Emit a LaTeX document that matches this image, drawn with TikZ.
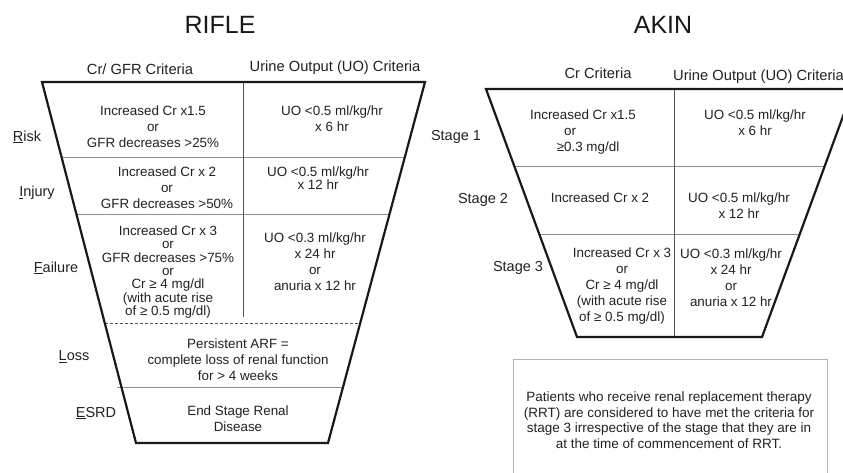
\documentclass[tikz,border=0pt]{standalone}
\usepackage{fontspec}
\setmainfont{Liberation Sans}
\usetikzlibrary{calc}
\definecolor{ink}{HTML}{222222}
\definecolor{rulegray}{HTML}{8E8E8E}
\definecolor{divgray}{HTML}{555555}
\definecolor{boxgray}{HTML}{B4B4B4}
\AtBeginDocument{\setlength{\lineskiplimit}{-20pt}}
\begin{document}
\begin{tikzpicture}[x=1pt,y=-1pt,
  cell/.style={font=\fontsize{13.4}{16}\selectfont, align=center, inner sep=0pt, text=ink},
  tightcell/.style={cell, font=\fontsize{13.4}{13.3}\selectfont},
  hdr/.style={font=\fontsize{14.7}{17}\selectfont, inner sep=0pt, text=ink},
  lbl/.style={font=\fontsize{14.5}{17}\selectfont, inner sep=0pt, text=ink},
  ttl/.style={font=\fontsize{25}{28}\selectfont, inner sep=0pt, text=black!90},
  outline/.style={line width=2.2pt, draw=black!90, line join=miter},
  rowline/.style={line width=1pt, draw=rulegray},
  divline/.style={line width=1pt, draw=divgray},
  dashline/.style={line width=1pt, draw=divgray, dash pattern=on 3pt off 2pt},
  notebox/.style={line width=1pt, draw=boxgray}
]
\useasboundingbox (0,0) rectangle (843,472);
\fill[white] (0,0) rectangle (843,472);
\clip (0,0) rectangle (843,472);

% ---------- titles ----------
\node[ttl] (rifle) at (220,25) {RIFLE};
\node[ttl] (akin) at (663,25) {AKIN};

% ---------- RIFLE ----------
\coordinate (Rtl) at (42,82);
\coordinate (Rtr) at (425,82);
\coordinate (Rbl) at (136,443);
\coordinate (Rbr) at (328,443);
\coordinate (Rdt) at (243,82);
\coordinate (Rdb) at (243,317);

\draw[rowline] ($(Rtl)!0.2105!(Rbl)$) -- ($(Rtr)!0.2105!(Rbr)$);
\draw[rowline] ($(Rtl)!0.3657!(Rbl)$) -- ($(Rtr)!0.3657!(Rbr)$);
\draw[dashline] ($(Rtl)!0.6676!(Rbl)$) -- ($(Rtr)!0.6676!(Rbr)$);
\draw[rowline] ($(Rtl)!0.8449!(Rbl)+(-4,0)$) -- ($(Rtr)!0.8449!(Rbr)$);
\draw[divline] (Rdt) -- (Rdb);
\draw[outline] (Rtl) -- (Rtr) -- (Rbr) -- (Rbl) -- cycle;

\node[hdr] (rh1) at (140,69) {Cr/ GFR Criteria};
\node[hdr] (rh2) at (335,68) {Urine Output (UO) Criteria};

\node[lbl] (lrisk) at (27,137) {\underline{R}isk};
\node[lbl] (linj) at (37,193) {\underline{I}njury};
\node[lbl] (lfail) at (56,268) {\underline{F}ailure};
\node[lbl] (lloss) at (74,357) {\underline{L}oss};
\node[lbl] (lesrd) at (96,413) {\underline{E}SRD};

\node[cell] (rcr1) at (153,127) {Increased Cr x1.5\\or\\GFR decreases >25\%};
\node[cell] (ruo1) at (332,119) {UO <0.5 ml/kg/hr\\x 6 hr};
\node[cell] (rcr2) at (167,188) {Increased Cr x 2\\or\\GFR decreases >50\%};
\node[tightcell] (ruo2) at (318,178) {UO <0.5 ml/kg/hr\\x 12 hr};
\node[tightcell] (rcr3) at (168,272) {Increased Cr x 3\\or\\GFR decreases >75\%\\or\\Cr ≥ 4 mg/dl\\(with acute rise\\of ≥ 0.5 mg/dl)};
\node[cell] (ruo3) at (315,262) {UO <0.3 ml/kg/hr\\x 24 hr\\or\\anuria x 12 hr};
\node[cell] (rloss) at (238,360) {Persistent ARF =\\complete loss of renal function\\for > 4 weeks};
\node[cell] (resrd) at (238,419) {End Stage Renal\\Disease};

% ---------- AKIN ----------
\coordinate (Atl) at (486,89);
\coordinate (Atr) at (853,89);
\coordinate (Abl) at (577,337);
\coordinate (Abr) at (762,337);
\coordinate (Adt) at (674,89);
\coordinate (Adb) at (674,337);

\draw[rowline] ($(Atl)!0.3105!(Abl)$) -- ($(Atr)!0.3105!(Abr)$);
\draw[rowline] ($(Atl)!0.5847!(Abl)$) -- ($(Atr)!0.5847!(Abr)$);
\draw[divline] (Adt) -- (Adb);
\draw[outline] (Atl) -- (Atr) -- (Abr) -- (Abl) -- cycle;

\node[hdr] (ah1) at (598,73) {Cr Criteria};
\node[hdr, anchor=west] (ah2) at (673,77) {Urine Output (UO) Criteria};

\node[lbl] (ls1) at (456,137) {Stage 1};
\node[lbl] (ls2) at (483,200) {Stage 2};
\node[lbl] (ls3) at (518,268) {Stage 3};

\node[cell] (acr1a) at (583,115) {Increased Cr x1.5};
\node[cell] (acr1b) at (570,132) {or};
\node[cell] (acr1c) at (588,148) {≥0.3 mg/dl};
\node[cell] (auo1) at (755,123) {UO <0.5 ml/kg/hr\\x 6 hr};
\node[cell] (acr2) at (600,198) {Increased Cr x 2};
\node[cell] (auo2) at (739,206) {UO <0.5 ml/kg/hr\\x 12 hr};
\node[cell] (acr3) at (622,286) {Increased Cr x 3\\or\\Cr ≥ 4 mg/dl\\(with acute rise\\of ≥ 0.5 mg/dl)};
\node[cell] (auo3) at (731,278) {UO <0.3 ml/kg/hr\\x 24 hr\\or\\anuria x 12 hr};

% ---------- note box ----------
\coordinate (Nbl) at (513,490);
\coordinate (Ntr) at (827,359);
\draw[notebox] (Nbl) rectangle (Ntr);
\node[cell, font=\fontsize{13.5}{15.5}\selectfont] (note) at (669,420) {Patients who receive renal replacement therapy\\(RRT) are considered to have met the criteria for\\stage 3 irrespective of the stage that they are in\\at the time of commencement of RRT.};
\end{tikzpicture}
\end{document}
